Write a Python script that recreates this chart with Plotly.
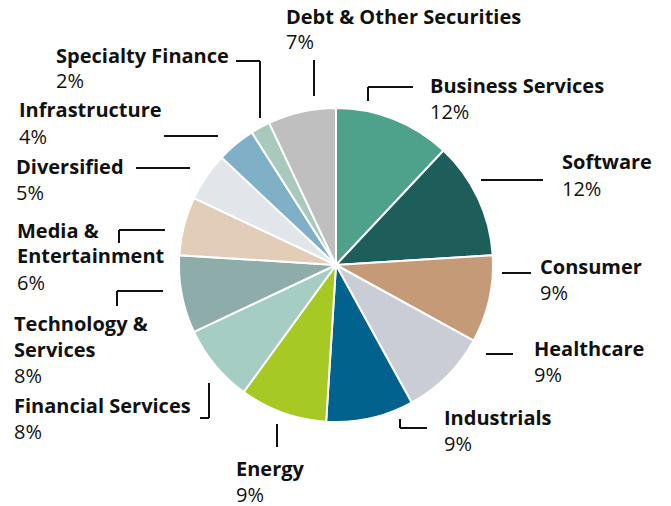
import plotly.graph_objects as go

categories = ["Business Services", "Software", "Consumer", "Healthcare", "Industrials",
              "Energy", "Financial Services", "Technology & Services",
              "Media & Entertainment", "Diversified", "Infrastructure",
              "Specialty Finance", "Debt & Other Securities"]
values = [12, 12, 9, 9, 9, 9, 8, 8, 6, 5, 4, 2, 7]
colors = ["#4ea18b", "#1e5e5a", "#c49b76", "#cacdd6", "#01628e", "#a6c923",
          "#a5cdc4", "#8eadaa", "#e1cdb8", "#e2e5ea", "#7fb0c8", "#a8c9bc", "#bfbfbf"]
# display lines for each label
label_lines = [["Business Services"], ["Software"], ["Consumer"], ["Healthcare"],
               ["Industrials"], ["Energy"], ["Financial Services"],
               ["Technology &", "Services"], ["Media &", "Entertainment"],
               ["Diversified"], ["Infrastructure"], ["Specialty Finance"],
               ["Debt & Other Securities"]]

W, H = 671, 506
# layout: label left x, first-line center y (pixels), leader polyline (pixels)
label_pos = [
    (430, 85, [(368, 101), (368, 87), (413, 87)]),
    (562, 162, [(481, 180), (543, 180)]),
    (540, 266, [(502, 273), (531, 273)]),
    (534, 348, [(486, 354), (513, 354)]),
    (444, 417, [(400, 419), (400, 428), (427, 428)]),
    (236, 468, [(277, 424), (277, 447)]),
    (14, 405, [(200, 418), (209, 418), (209, 383)]),
    (14, 323, [(163, 291), (117, 291), (117, 306)]),
    (17, 230, [(165, 230), (119, 230), (119, 243)]),
    (16, 166, [(136, 168), (190, 168)]),
    (19, 110, [(164, 136), (218, 136)]),
    (56, 55, [(236, 61), (260, 61), (260, 118)]),
    (286, 16, [(314, 60), (314, 96)]),
]
LINE = 26
FONT = "Open Sans"
FSIZE = 20

cx, cy, r = 336, 265, 157

fig = go.Figure(go.Pie(
    labels=categories, values=values, sort=False, direction="clockwise", rotation=0,
    marker=dict(colors=colors, line=dict(color="white", width=2)),
    textinfo="none", hoverinfo="label+percent", showlegend=False,
    domain=dict(x=[(cx - r) / W, (cx + r) / W], y=[(H - cy - r) / H, (H - cy + r) / H]),
))

annotations = []
shapes = []
for lines, v, (lx, ly, pts) in zip(label_lines, values, label_pos):
    for i, t in enumerate(lines):
        annotations.append(dict(
            x=lx / W, y=1 - (ly + i * LINE) / H, xref="paper", yref="paper",
            text="<b>" + t + "</b>", showarrow=False, xanchor="left", yanchor="middle",
            xshift=-2, font=dict(family=FONT, size=FSIZE, color="#111111")))
    annotations.append(dict(
        x=lx / W, y=1 - (ly + len(lines) * LINE) / H, xref="paper", yref="paper",
        text=f"{v}%", showarrow=False, xanchor="left", yanchor="middle",
        xshift=-2, font=dict(family=FONT, size=FSIZE, color="#111111")))
    for (x0, y0), (x1, y1) in zip(pts[:-1], pts[1:]):
        shapes.append(dict(type="line", xref="paper", yref="paper",
                           x0=x0 / W, y0=1 - y0 / H, x1=x1 / W, y1=1 - y1 / H,
                           line=dict(color="#111111", width=2)))

fig.update_layout(
    width=W, height=H, margin=dict(l=0, r=0, t=0, b=0),
    paper_bgcolor="white", plot_bgcolor="white",
    annotations=annotations, shapes=shapes,
)
fig.write_html("out.html", config={"displayModeBar": False},
               post_script="document.body.style.margin='0';")
